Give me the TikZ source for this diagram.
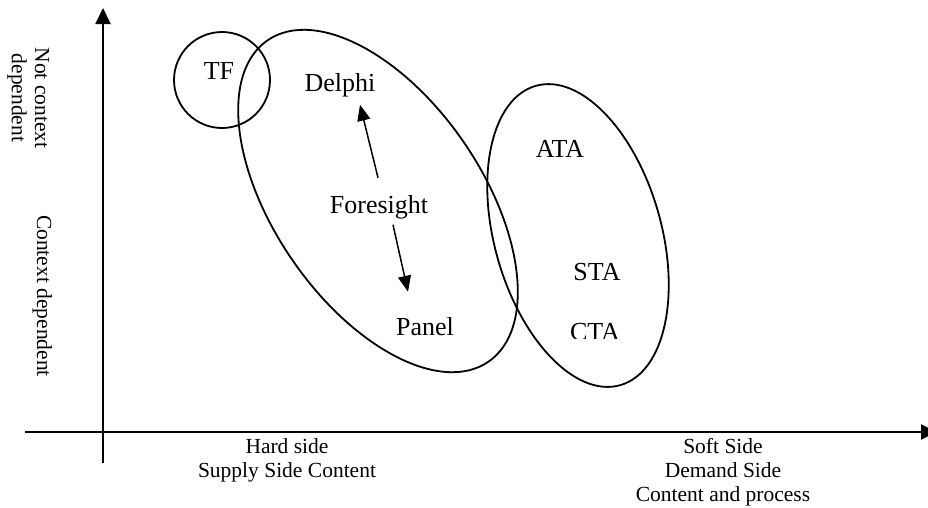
\documentclass[tikz,border=0pt]{standalone}
\usepackage{fontspec}
\setmainfont{Liberation Serif}
\usetikzlibrary{arrows.meta,shapes.geometric}
\tikzset{
  big/.style={font=\fontsize{26}{30}\selectfont, inner sep=0pt, anchor=base},
  axlab/.style={font=\fontsize{21.5}{24}\selectfont, inner sep=0pt, anchor=base},
  sidelab/.style={font=\fontsize{21.5}{24}\selectfont, inner sep=0pt, anchor=base, rotate=-90},
  axisline/.style={line width=2pt, -{Triangle[length=16pt,width=15pt]}},
  arr/.style={line width=1.5pt, -{Triangle[length=16pt,width=13pt]}},
  ring/.style={draw, line width=1.8pt, inner sep=0pt},
  oval/.style={draw, ellipse, line width=1.8pt, inner sep=0pt}
}
\begin{document}
\begin{tikzpicture}
\useasboundingbox (0,0) rectangle (928pt,-507pt);
% axes
\coordinate (xstart) at (25pt,-432pt);
\coordinate (xend) at (937pt,-432pt);
\coordinate (ybot) at (103pt,-463pt);
\coordinate (ytop) at (103pt,-8pt);
\draw[axisline] (xstart) -- (xend);
\draw[axisline] (ybot) -- (ytop);
% vertical axis labels
\node[sidelab] (nc1) at (35pt,-98pt) {Not context};
\node[sidelab] (nc2) at (12pt,-98pt) {dependent};
\node[sidelab] (cd) at (37pt,-296pt) {Context dependent};
% horizontal axis labels
\node[axlab] (h1) at (287pt,-453pt) {Hard side};
\node[axlab] (h2) at (287pt,-477pt) {Supply Side Content};
\node[axlab] (s1) at (723pt,-453pt) {Soft Side};
\node[axlab] (s2) at (723pt,-477pt) {Demand Side};
\node[axlab] (s3) at (723pt,-501pt) {Content and process};
% shapes
\node[ring, circle, minimum size=96pt] (tfc) at (222pt,-80pt) {};
\node[oval, minimum width=390pt, minimum height=208pt, rotate=-55.5] (fsE) at (378pt,-201pt) {};
\node[oval, minimum width=311pt, minimum height=167pt, rotate=-74.3] (taE) at (578pt,-235.5pt) {};
% labels
\node[big] (tf) at (219pt,-79pt) {TF};
\node[big] (delphi) at (340pt,-91pt) {Delphi};
\node[big] (fore) at (379pt,-213pt) {Foresight};
\node[big] (panel) at (425pt,-335pt) {Panel};
\node[big] (ata) at (560pt,-157pt) {ATA};
\node[big] (sta) at (597pt,-280pt) {STA};
\begin{scope}
\clip (540pt,-300pt) rectangle (650pt,-338pt);
\node[big] (cta) at (595pt,-340pt) {CTA};
\end{scope}
% arrows
\draw[arr] ([xshift=-1pt,yshift=17pt]fore.north) -- ([xshift=20pt,yshift=-8pt]delphi.south);
\draw[arr] ([xshift=14pt,yshift=-6pt]fore.south) -- ([xshift=-17pt,yshift=25pt]panel.north);
\end{tikzpicture}
\end{document}
